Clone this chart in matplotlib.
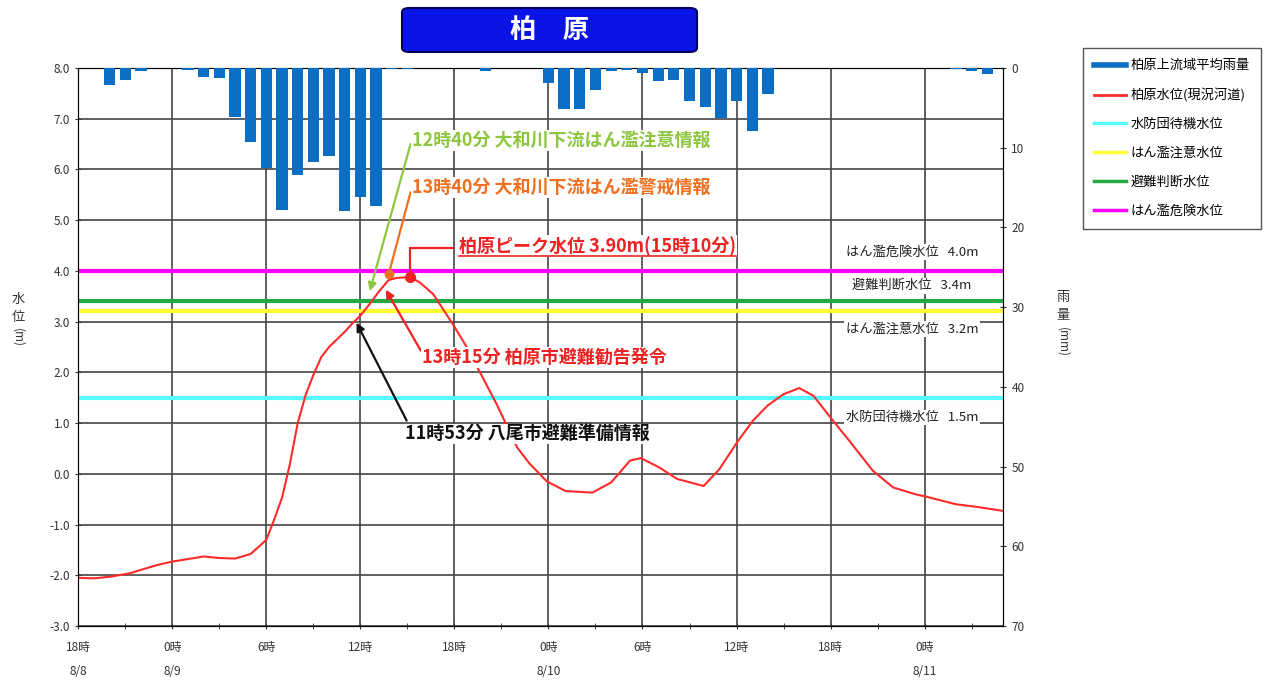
import numpy as np
import matplotlib.pyplot as plt
from matplotlib.lines import Line2D
from matplotlib.patches import FancyBboxPatch

plt.rcParams['font.family'] = ['Noto Sans CJK JP', 'DejaVu Sans']

# time axis: hours since 8/8 18:00
rain_hours = [2, 3, 4, 7, 8, 9, 10, 11, 12, 13, 14, 15, 16, 17, 18, 19, 20, 21,
              26, 30, 31, 32, 33, 34, 35, 36, 37, 38, 39, 40, 41, 42, 43, 44,
              56, 57, 58]
rain_mm = [2.1, 1.5, 0.4, 0.3, 1.1, 1.3, 6.1, 9.3, 12.5, 17.8, 13.4, 11.8, 11.0, 17.9, 16.2, 17.3, 0.1, 0.1,
           0.4, 1.9, 5.1, 5.1, 2.8, 0.4, 0.2, 0.6, 1.6, 1.5, 4.1, 4.9, 6.3, 4.1, 7.9, 3.2,
           0.1, 0.4, 0.8]

level_hours = [0, 1, 2, 3.3, 5, 6, 7, 8, 9, 10, 11, 12, 12.5, 13, 13.5, 14, 14.5, 15, 15.5, 16,
               17, 17.5, 18, 18.6, 19.2, 19.8, 20.3, 21.17, 21.8, 22.65, 23.9, 24.8, 25.8, 26.7,
               28, 28.8, 29.9, 31.1, 32.8, 34, 35.2, 35.9, 37.1, 38.2, 39.9, 40.9, 42.1, 43.05,
               44, 45, 46, 46.9, 48, 49.2, 50.7, 52, 53.5, 54.1, 56, 57.3, 59]
level_m = [-2.05, -2.06, -2.03, -1.96, -1.8, -1.73, -1.68, -1.63, -1.66, -1.67, -1.58, -1.3, -0.9, -0.47, 0.19, 1.0, 1.55, 1.95, 2.3, 2.5,
           2.8, 2.97, 3.12, 3.35, 3.6, 3.82, 3.86, 3.88, 3.77, 3.54, 2.95, 2.49, 1.9, 1.37,
           0.52, 0.2, -0.15, -0.34, -0.37, -0.17, 0.26, 0.31, 0.12, -0.1, -0.24, 0.09, 0.65, 1.05,
           1.35, 1.57, 1.69, 1.54, 1.11, 0.65, 0.06, -0.27, -0.41, -0.45, -0.6, -0.65, -0.73]

threshold_names = ['水防団待機水位', 'はん濫注意水位', '避難判断水位', 'はん濫危険水位']
threshold_values = [1.5, 3.2, 3.4, 4.0]
threshold_colors = ['#55FFFF', '#FFFF33', '#22AA44', '#FF00FF']
threshold_label_y = [1.11, 2.85, 3.71, 4.37]

tick_hours = [0, 6, 12, 18, 24, 30, 36, 42, 48, 54]
tick_labels = ['18時\n8/8', '0時\n8/9', '6時', '12時', '18時', '0時\n8/10', '6時', '12時', '18時', '0時\n8/11']

RAIN_C = '#0A6FC4'
LEVEL_C = '#FF2A2A'

fig = plt.figure(figsize=(12.67, 6.8), dpi=100)
ax = fig.add_axes([0.0618, 0.0794, 0.7298, 0.8206])
ax2 = ax.twinx()

# water level axis
ax.set_xlim(0, 59)
ax.set_ylim(-3, 8)
ax.set_yticks(np.arange(-3, 8.1, 1))
ax.set_yticklabels([f'{v:.1f}' for v in np.arange(-3, 8.1, 1)])
ax.set_xticks(tick_hours)
ax.set_xticklabels(tick_labels, linespacing=2.1)
ax.set_xticks(np.arange(3, 59, 6), minor=True)
ax.grid(True, which='major', color='#444444', lw=1.2)
ax.tick_params(axis='both', labelsize=8.5, colors='#333333', direction='inout', length=5)
ax.tick_params(axis='x', which='minor', direction='inout', length=5, color='#333333')
ax.tick_params(axis='x', pad=8)
for s in ax.spines.values():
    s.set_color('#444444')

for v, c in zip(threshold_values, threshold_colors):
    ax.axhline(v, color=c, lw=3, zorder=2)
ax.plot(level_hours, level_m, color=LEVEL_C, lw=1.5, zorder=3)

for name, v, yl in zip(threshold_names, threshold_values, threshold_label_y):
    ax.text(53.2, yl, f'{name}   {v:.1f}m', fontsize=9.5, ha='center', va='center',
            color='#222222', bbox=dict(fc='white', ec='none', pad=1), zorder=4)

# rainfall axis (inverted)
ax2.set_ylim(70, 0)
ax2.set_yticks(range(0, 71, 10))
ax2.tick_params(axis='y', labelsize=8.5, colors='#333333', direction='inout', length=5)
ax2.bar(rain_hours, rain_mm, width=0.72, color=RAIN_C, zorder=3)

# event annotations
def event(tip, start, text, pos, color, head=True):
    style = '-|>' if head else '-'
    ax.annotate('', xy=tip, xytext=start,
                arrowprops=dict(arrowstyle=style, color=color, lw=1.6, mutation_scale=12,
                                shrinkA=0, shrinkB=0), zorder=5)
    ax.text(pos[0], pos[1], text, color=color, fontsize=13, fontweight='bold',
            ha='left', va='center', bbox=dict(fc='white', ec='none', pad=0.5), zorder=5)

event((18.6, 3.6), (21.2, 6.5), '12時40分 大和川下流はん濫注意情報', (21.3, 6.57), '#8DC63F')
event((19.8, 3.93), (21.2, 5.55), '13時40分 大和川下流はん濫警戒情報', (21.3, 5.64), '#F07020', head=False)
ax.plot(19.8, 3.93, 'o', color='#F07020', ms=6, zorder=6)
event((19.62, 3.63), (21.85, 2.43), '13時15分 柏原市避難勧告発令', (21.9, 2.29), '#EE2222')
event((17.75, 2.98), (20.95, 1.05), '11時53分 八尾市避難準備情報', (20.84, 0.79), '#111111')

# peak marker
ax.plot([21.17, 21.17, 23.9], [3.88, 4.46, 4.46], color='#EE2222', lw=1.6, zorder=5)
ax.plot(21.17, 3.88, 'o', color='#EE2222', ms=7, zorder=6)
peak_txt = ax.text(24.3, 4.49, '柏原ピーク水位 3.90m(15時10分)', color='#EE2222', fontsize=13,
                   fontweight='bold', ha='left', va='center',
                   bbox=dict(fc='white', ec='none', pad=0.5), zorder=5)
fig.canvas.draw()
bb = peak_txt.get_window_extent().transformed(ax.transData.inverted())
ax.plot([24.3, bb.x1], [4.3, 4.3], color='#EE2222', lw=1.2, zorder=6)

# axis titles written vertically
for i, ch in enumerate(['水', '位']):
    fig.text(18 / 1267, 1 - (300 + 18 * i) / 680, ch, fontsize=9.5, ha='center', va='center', color='#333333')
fig.text(18 / 1267, 1 - 338 / 680, '(m)', fontsize=8.5, rotation=-90, ha='center', va='center', color='#333333')
for i, ch in enumerate(['雨', '量']):
    fig.text(1063 / 1267, 1 - (298 + 18 * i) / 680, ch, fontsize=9.5, ha='center', va='center', color='#333333')
fig.text(1063 / 1267, 1 - 342 / 680, '(mm)', fontsize=8.5, rotation=-90, ha='center', va='center', color='#333333')

# title box
fig.patches.append(FancyBboxPatch((402 / 1267, 1 - 52 / 680), 295 / 1267, 44 / 680,
                                  boxstyle='round,pad=0,rounding_size=0.006',
                                  transform=fig.transFigure, fc='#0A14E6', ec='#000060', lw=1.5))
fig.text(550 / 1267, 1 - 30 / 680, '柏\u3000原', color='white', fontsize=19, fontweight='bold',
         ha='center', va='center')

# legend
handles = [Line2D([], [], color=RAIN_C, lw=4),
           Line2D([], [], color=LEVEL_C, lw=2),
           Line2D([], [], color='#55FFFF', lw=2.5),
           Line2D([], [], color='#FFFF33', lw=2.5),
           Line2D([], [], color='#22AA44', lw=2.5),
           Line2D([], [], color='#FF00FF', lw=2.5)]
labels = ['柏原上流域平均雨量', '柏原水位(現況河道)', '水防団待機水位', 'はん濫注意水位', '避難判断水位', 'はん濫危険水位']
fig.legend(handles, labels, loc='upper left', bbox_to_anchor=(1083 / 1267, 1 - 48 / 680),
           fontsize=9.5, frameon=True, fancybox=False, edgecolor='#555555', framealpha=1,
           handlelength=2.4, labelspacing=1.2, borderpad=0.85, handletextpad=0.35,
           borderaxespad=0)

fig.savefig('out.png', dpi=100)
